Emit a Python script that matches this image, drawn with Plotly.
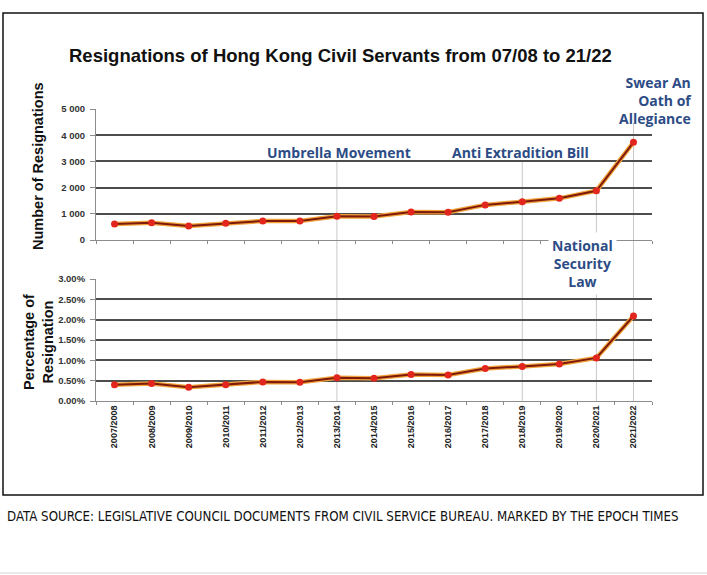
import plotly.graph_objects as go

years = ["2007/2008", "2008/2009", "2009/2010", "2010/2011", "2011/2012", "2012/2013",
         "2013/2014", "2014/2015", "2015/2016", "2016/2017", "2017/2018", "2018/2019",
         "2019/2020", "2020/2021", "2021/2022"]
resignations = [610, 660, 530, 640, 725, 725, 910, 900, 1070, 1060, 1340, 1460, 1590, 1880, 3730]
percent = [0.40, 0.43, 0.34, 0.40, 0.47, 0.46, 0.57, 0.56, 0.65, 0.64, 0.80, 0.85, 0.91, 1.06, 2.09]

count_ticks = [0, 1000, 2000, 3000, 4000, 5000]
count_labels = ["0", "1 000", "2 000", "3 000", "4 000", "5 000"]
pct_ticks = [0, 0.5, 1.0, 1.5, 2.0, 2.5, 3.0]
pct_labels = ["0.00%", "0.50%", "1.00%", "1.50%", "2.00%", "2.50%", "3.00%"]

W, H = 707, 575
def py(p):
    return 1 - p / H
def px(p):
    return p / W

LINE_UNDER = "#f2a33a"
LINE_MAIN = "#7d1a0c"
MARKER = "#e3261d"
NAVY = "#2d4c86"

fig = go.Figure()
for yref, vals in (("y", resignations), ("y2", percent)):
    xa = "x" if yref == "y" else "x2"
    fig.add_trace(go.Scatter(x=years, y=vals, xaxis=xa, yaxis=yref, mode="lines",
                             line=dict(color=LINE_UNDER, width=4.5), hoverinfo="skip"))
    fig.add_trace(go.Scatter(x=years, y=vals, xaxis=xa, yaxis=yref, mode="lines+markers",
                             line=dict(color=LINE_MAIN, width=2),
                             marker=dict(color=MARKER, size=7)))

top_dom = [py(240), py(109)]
bot_dom = [py(401), py(279)]
xdom = [px(96), px(652)]
xrange = [-0.5, len(years) - 0.5]

yaxis_common = dict(showgrid=True, gridcolor="#4d4d4d", gridwidth=1.5, zeroline=False,
                    showline=True, linecolor="#8c8c8c", linewidth=1, ticks="outside",
                    ticklen=5, tickcolor="#8c8c8c", ticklabelstandoff=3,
                    tickfont=dict(family="Liberation Sans", size=9.5, color="#333333", weight="bold"))
xaxis_common = dict(type="category", range=xrange, showline=True, linecolor="#8c8c8c",
                    linewidth=1, ticks="outside", ticklen=3, tickcolor="#8c8c8c",
                    tickson="boundaries", showgrid=False, domain=xdom)

fig.update_layout(
    width=W, height=H, margin=dict(l=0, r=0, t=0, b=0, autoexpand=False),
    paper_bgcolor="white", plot_bgcolor="white", showlegend=False,
    xaxis=dict(anchor="y", showticklabels=False, **xaxis_common),
    xaxis2=dict(anchor="y2", matches="x", tickangle=-90,
                tickfont=dict(family="Liberation Sans Narrow, Liberation Sans", size=9,
                              color="#222222", weight="bold"), **xaxis_common),
    yaxis=dict(domain=top_dom, anchor="x", range=[0, 5000], tickvals=count_ticks,
               ticktext=count_labels, **yaxis_common),
    yaxis2=dict(domain=bot_dom, anchor="x2", range=[0, 3.0], tickvals=pct_ticks,
                ticktext=pct_labels, **yaxis_common),
)

shapes = []
shapes.append(dict(type="rect", xref="paper", yref="paper", x0=px(3), x1=px(703),
                   y0=py(495), y1=py(13), line=dict(color="#111111", width=1.5)))
shapes.append(dict(type="line", xref="paper", yref="paper", x0=0, x1=1,
                   y0=py(573), y1=py(573), line=dict(color="#e3e3e3", width=1.5)))

def top_paper(v):
    return top_dom[0] + v / 5000 * (top_dom[1] - top_dom[0])

event_lines = [(years.index("2013/2014"), py(160)),
               (years.index("2018/2019"), py(160)),
               (years.index("2020/2021"), top_paper(resignations[years.index("2020/2021")])),
               (years.index("2021/2022"), py(123))]
for idx, ytop in event_lines:
    shapes.append(dict(type="line", xref="x", yref="paper", x0=idx, x1=idx,
                       y0=bot_dom[0], y1=ytop, line=dict(color="#c8c8c8", width=1),
                       layer="below"))
fig.update_layout(shapes=shapes)

def A(text, x, y, size, color="#111111", family="Liberation Sans", **kw):
    d = dict(text=text, xref="paper", yref="paper", x=px(x), y=py(y), showarrow=False,
             xanchor=kw.pop("xanchor", "center"), yanchor=kw.pop("yanchor", "middle"),
             font=dict(family=family, size=size, color=color))
    d.update(kw)
    return d

ann = []
ann.append(A("<b>Resignations of Hong Kong Civil Servants from 07/08 to 21/22</b>", 340, 55, 18.5))
ann.append(A("<b>Number of Resignations</b>", 38, 166, 14.5, textangle=-90))
ann.append(A("<b>Percentage of<br>Resignation</b>", 38, 342, 14.5, textangle=-90))
EVF = "Open Sans"
ann.append(A("<b>Umbrella Movement</b>", 339, 152, 14, NAVY, EVF))
ann.append(A("<b>Anti Extradition Bill</b>", 520, 152, 14, NAVY, EVF))
ann.append(A("<b>Swear An<br>Oath of<br>Allegiance</b>", 694, 100, 14, NAVY, EVF,
             xanchor="right", align="right"))
ann.append(A("<b>National<br>Security<br>Law</b>", 582, 264, 14, NAVY, EVF,
             align="center", bgcolor="white", borderpad=3))
ann.append(A("DATA SOURCE: LEGISLATIVE COUNCIL DOCUMENTS FROM CIVIL SERVICE BUREAU. MARKED BY THE EPOCH TIMES",
             5, 516, 13.2, family="Liberation Sans Narrow, DejaVu Sans Condensed", xanchor="left"))
fig.update_layout(annotations=ann)

fig.write_html("out.html", config={"displayModeBar": False},
               post_script="document.body.style.margin='0';document.body.style.padding='0';")
